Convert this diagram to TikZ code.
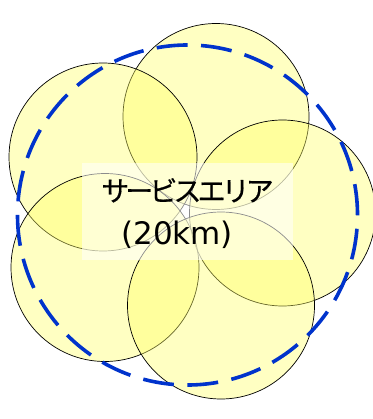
\documentclass[tikz,border=0pt]{standalone}
\usepackage{fontspec}
\setmainfont[FakeBold=0.5]{Noto Sans CJK JP}
\newfontfamily\kanafont[FakeBold=0.5, LetterSpace=-14]{Noto Sans CJK JP}
\newfontfamily\latinfont{DejaVu Sans}
\usepackage{xcolor}
\usepackage{tikz}
\usetikzlibrary{positioning}

\definecolor{cellfill}{HTML}{FFFF66}
\definecolor{areablue}{HTML}{0033CC}

\begin{document}
\begin{tikzpicture}[
  x=1pt, y=-1pt,
  cell/.style={circle, draw=black, line width=0.7pt, fill=cellfill,
    fill opacity=0.4, inner sep=0pt},
  area/.style={circle, draw=areablue, line width=3.6pt,
    dash pattern=on 31pt off 13.5pt, inner sep=0pt, minimum size=340pt},
  label/.style={fill=white, fill opacity=0.55, text opacity=1,
    align=left, inner xsep=19pt, minimum width=209pt, minimum height=97pt,
    font=\fontsize{28}{43}\selectfont},
]
  \useasboundingbox (0,0) rectangle (372,419);

  % Cells (drawing order sets which outlines look faded)
  \node[cell, minimum size=186pt] (ctop)   at (216,116.5) {};
  \node[cell, minimum size=188pt] (cupl)   at (103,157) {};
  \node[cell, minimum size=186pt] (cright) at (282.5,213) {};
  \node[cell, minimum size=188pt] (clowl)  at (105,267.5) {};
  \node[cell, minimum size=187pt] (cbot)   at (221,305.5) {};

  % Label
  \node[label] (svc) at (187.5,211.5)
    {\rule{0pt}{26.6pt}{\kanafont サービスエリア}\\
     \hspace*{20pt}{\latinfont\fontsize{31}{43}\selectfont (20km)}};

  % Service area boundary
  \node[area] (zone) at (187.5,215) {};
\end{tikzpicture}
\end{document}
